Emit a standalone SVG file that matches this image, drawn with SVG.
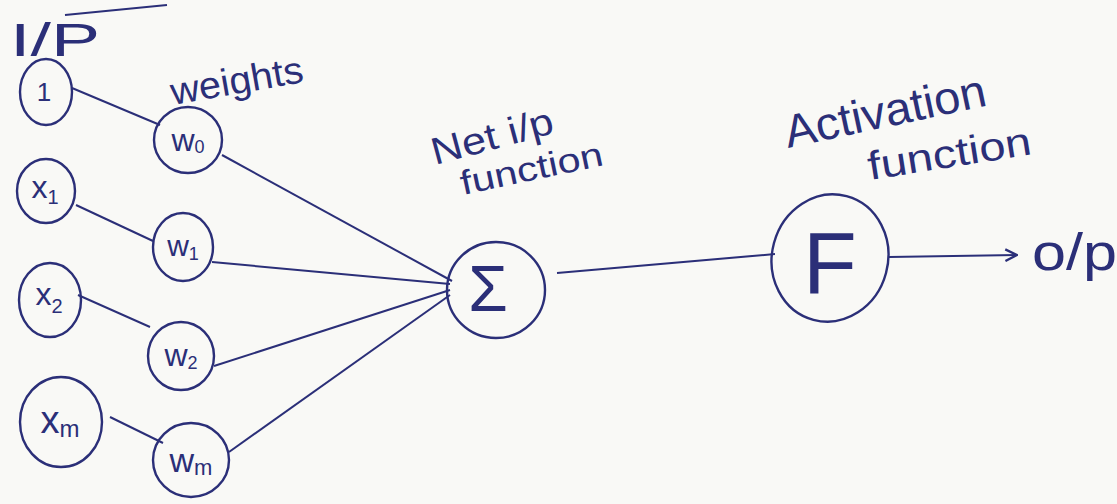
<svg xmlns="http://www.w3.org/2000/svg" width="1117" height="504" viewBox="0 0 1117 504">
<defs>
<marker id="arr" viewBox="0 0 12 12" refX="11" refY="6" markerWidth="14" markerHeight="14" markerUnits="userSpaceOnUse" orient="auto">
<path d="M1,1 L11,6 L1,11" fill="none" stroke="#2b2f78" stroke-width="2"/>
</marker>
<style>
.n{fill:none;stroke:#2b2f78;stroke-width:2.4}
.c{fill:none;stroke:#2b2f78;stroke-width:2}
.t{font-family:"Liberation Sans",Arial,sans-serif;fill:#2b2f78}
</style>
</defs>
<rect width="1117" height="504" fill="#f9f9f6"/>
<g id="title">
<text class="t" x="10" y="56" font-size="46" textLength="90" lengthAdjust="spacingAndGlyphs">I/P</text>
<line class="c" x1="65" y1="15" x2="167" y2="5"/>
</g>
<g id="label-weights"><text class="t" x="173" y="105" font-size="38" textLength="134" lengthAdjust="spacingAndGlyphs" transform="rotate(-10 173 105)">weights</text></g>
<g id="label-net">
<text class="t" x="435" y="165" font-size="38" textLength="125" lengthAdjust="spacingAndGlyphs" transform="rotate(-15 435 165)">Net i/p</text>
<text class="t" x="463" y="195" font-size="34" textLength="145" lengthAdjust="spacingAndGlyphs" transform="rotate(-12 463 195)">function</text>
</g>
<g id="label-act">
<text class="t" x="788" y="148" font-size="46" textLength="205" lengthAdjust="spacingAndGlyphs" transform="rotate(-12 788 148)">Activation</text>
<text class="t" x="870" y="180" font-size="40" textLength="165" lengthAdjust="spacingAndGlyphs" transform="rotate(-9 870 180)">function</text>
</g>
<g id="in-1"><ellipse class="n" cx="46" cy="92" rx="26" ry="33"/><text class="t" x="44" y="101" font-size="26" text-anchor="middle">1</text></g>
<g id="in-x1"><ellipse class="n" cx="46" cy="191" rx="29" ry="32"/><text class="t" x="45" y="198" font-size="32" text-anchor="middle">x<tspan font-size="20" dy="6">1</tspan></text></g>
<g id="in-x2"><ellipse class="n" cx="50" cy="300" rx="31" ry="37"/><text class="t" x="49" y="305" font-size="32" text-anchor="middle">x<tspan font-size="20" dy="8">2</tspan></text></g>
<g id="in-xm"><ellipse class="n" cx="61" cy="422" rx="41" ry="45"/><text class="t" x="60" y="433" font-size="38" text-anchor="middle">x<tspan font-size="24" dy="4">m</tspan></text></g>
<g id="w0"><ellipse class="n" cx="188" cy="140" rx="34" ry="33"/><text class="t" x="188" y="151" font-size="32" text-anchor="middle">w<tspan font-size="18" dy="2">0</tspan></text></g>
<g id="w1"><ellipse class="n" cx="183" cy="247" rx="30" ry="34"/><text class="t" x="183" y="256" font-size="30" text-anchor="middle">w<tspan font-size="18" dy="4">1</tspan></text></g>
<g id="w2"><ellipse class="n" cx="181" cy="356" rx="33" ry="34"/><text class="t" x="181" y="366" font-size="32" text-anchor="middle">w<tspan font-size="18" dy="3">2</tspan></text></g>
<g id="wm"><ellipse class="n" cx="191" cy="460" rx="38" ry="37"/><text class="t" x="191" y="472" font-size="34" text-anchor="middle">w<tspan font-size="22" dy="3">m</tspan></text></g>
<g id="sum"><ellipse class="n" cx="496" cy="290" rx="49" ry="48"/><text class="t" x="488" y="311" font-size="64" text-anchor="middle">Σ</text></g>
<g id="act"><ellipse class="n" cx="830" cy="258" rx="58" ry="64" transform="rotate(15 830 258)"/><text class="t" x="830" y="293" font-size="88" text-anchor="middle">F</text></g>
<g id="out"><text class="t" x="1032" y="270" font-size="52" textLength="85" lengthAdjust="spacingAndGlyphs">o/p</text></g>
<g id="connectors">
<line class="c" x1="72" y1="88" x2="160" y2="125"/>
<line class="c" x1="76" y1="205" x2="153" y2="241"/>
<line class="c" x1="78" y1="295" x2="150" y2="327"/>
<line class="c" x1="110" y1="417" x2="163" y2="443"/>
<line class="c" x1="222" y1="155" x2="452" y2="281"/>
<line class="c" x1="212" y1="262" x2="450" y2="284"/>
<line class="c" x1="214" y1="366" x2="450" y2="290"/>
<line class="c" x1="229" y1="452" x2="450" y2="295"/>
<line class="c" x1="557" y1="273" x2="775" y2="254"/>
<line class="c" x1="889" y1="257" x2="1017" y2="255" marker-end="url(#arr)"/>
</g>
</svg>
